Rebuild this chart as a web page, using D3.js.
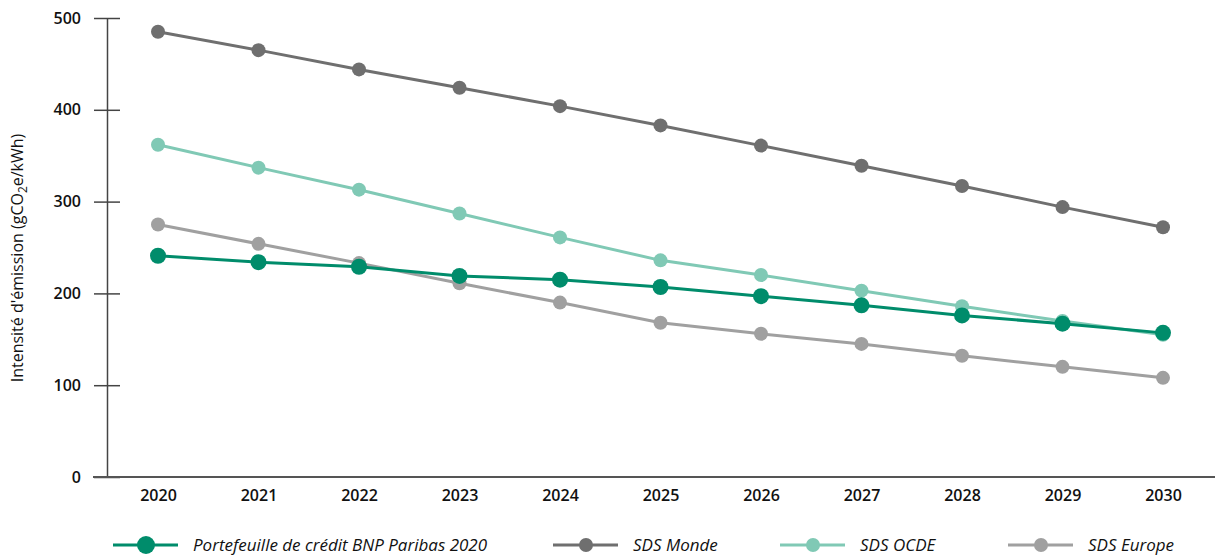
<!DOCTYPE html>
<html>
<head>
<meta charset="utf-8">
<script src="https://cdn.jsdelivr.net/npm/d3@7"></script>
<style>
	body { margin: 0; background: #fff; }
	text { font-family: 'Open Sans', 'Noto Sans', sans-serif; }
</style>
</head>
<body>
<div class="chart"></div>
<script>
// emission intensity - BNP Paribas portfolio vs SDS scenarios
const years = [2020, 2021, 2022, 2023, 2024, 2025, 2026, 2027, 2028, 2029, 2030]
const portfolio = [241, 234, 229, 219, 215, 207, 197, 187, 176, 167, 157]
const sdsMonde = [485, 465, 444, 424, 404, 383, 361, 339, 317, 294, 272]
const sdsOcde = [362, 337, 313, 287, 261, 236, 220, 203, 186, 170, 155]
const sdsEurope = [275, 254, 233, 211, 190, 168, 156, 145, 132, 120, 108]
const yTicks = [0, 100, 200, 300, 400, 500]

const series = [
	{name: 'SDS Monde', values: sdsMonde, color: '#6f6f6f', r: 7},
	{name: 'SDS OCDE', values: sdsOcde, color: '#80c9b5', r: 7},
	{name: 'SDS Europe', values: sdsEurope, color: '#a0a0a0', r: 7},
	{name: 'Portefeuille de crédit BNP Paribas 2020', values: portfolio, color: '#008c6b', r: 8}
]
const legendOrder = [3, 0, 1, 2]
const legendX = [113, 553, 780, 1008]

const W = 1216, H = 557
const svg = d3.select('.chart')
	.append('svg')
	.attr('width', W)
	.attr('height', H)

const xScale = d3.scalePoint()
	.domain(years)
	.range([158, 1163])

const yScale = d3.scaleLinear()
	.domain([0, 500])
	.range([477, 18])

// y axis
const yAxis = d3.axisLeft(yScale)
	.tickValues(yTicks)
	.tickSizeInner(-13)
	.tickSizeOuter(0)
	.tickPadding(26)

const gy = svg.append('g')
	.attr('transform', 'translate(107,0)')
	.call(yAxis)
gy.select('.domain').attr('stroke', '#444').attr('stroke-width', 1.5)
gy.selectAll('.tick line')
	.attr('x1', -13).attr('x2', 13)
	.attr('stroke', '#444').attr('stroke-width', 1.5)
gy.selectAll('.tick text')
	.attr('font-size', '16px')
	.attr('font-weight', 600)
	.attr('fill', '#111')
	.style('font-family', "'Open Sans', sans-serif")

// x axis
const xAxis = d3.axisBottom(xScale)
	.tickSize(0)
	.tickPadding(13)

const gx = svg.append('g')
	.attr('transform', 'translate(0,477)')
	.call(xAxis)
gx.select('.domain').remove()
gx.append('line')
	.attr('x1', 93).attr('x2', 1215)
	.attr('stroke', '#555').attr('stroke-width', 2)
gx.selectAll('.tick text')
	.attr('font-size', '16px')
	.attr('font-weight', 600)
	.attr('fill', '#111')
	.style('font-family', "'Open Sans', sans-serif")

// y-axis label
const ylab = svg.append('text')
	.attr('transform', 'translate(23,258) rotate(-90)')
	.attr('text-anchor', 'middle')
	.attr('font-size', '16px')
	.attr('fill', '#111')
ylab.append('tspan').text("Intensité d'émission (gCO")
ylab.append('tspan').attr('font-size', '12px').attr('dy', 4).text('2')
ylab.append('tspan').attr('dy', -4).text('e/kWh)')

// lines and markers
const line = d3.line()
	.x((d, i) => xScale(years[i]))
	.y(d => yScale(d))

series.forEach(s => {
	const g = svg.append('g')
	g.append('path')
		.datum(s.values)
		.attr('d', line)
		.attr('fill', 'none')
		.attr('stroke', s.color)
		.attr('stroke-width', 3)
	g.selectAll('circle')
		.data(s.values)
		.enter()
		.append('circle')
		.attr('cx', (d, i) => xScale(years[i]))
		.attr('cy', d => yScale(d))
		.attr('r', s.r)
		.attr('fill', s.color)
})

// legend
const leg = svg.append('g')
legendOrder.forEach((k, i) => {
	const s = series[k]
	const x0 = legendX[i]
	const y0 = 545
	leg.append('line')
		.attr('x1', x0).attr('x2', x0 + 65)
		.attr('y1', y0).attr('y2', y0)
		.attr('stroke', s.color).attr('stroke-width', 3)
	leg.append('circle')
		.attr('cx', x0 + 33).attr('cy', y0)
		.attr('r', k === 3 ? 9 : 7)
		.attr('fill', s.color)
	leg.append('text')
		.attr('x', x0 + 80)
		.attr('y', y0 + 6)
		.attr('font-size', '17px')
		.attr('font-style', 'italic')
		.attr('fill', '#111')
		.text(s.name)
})
</script>
</body>
</html>
